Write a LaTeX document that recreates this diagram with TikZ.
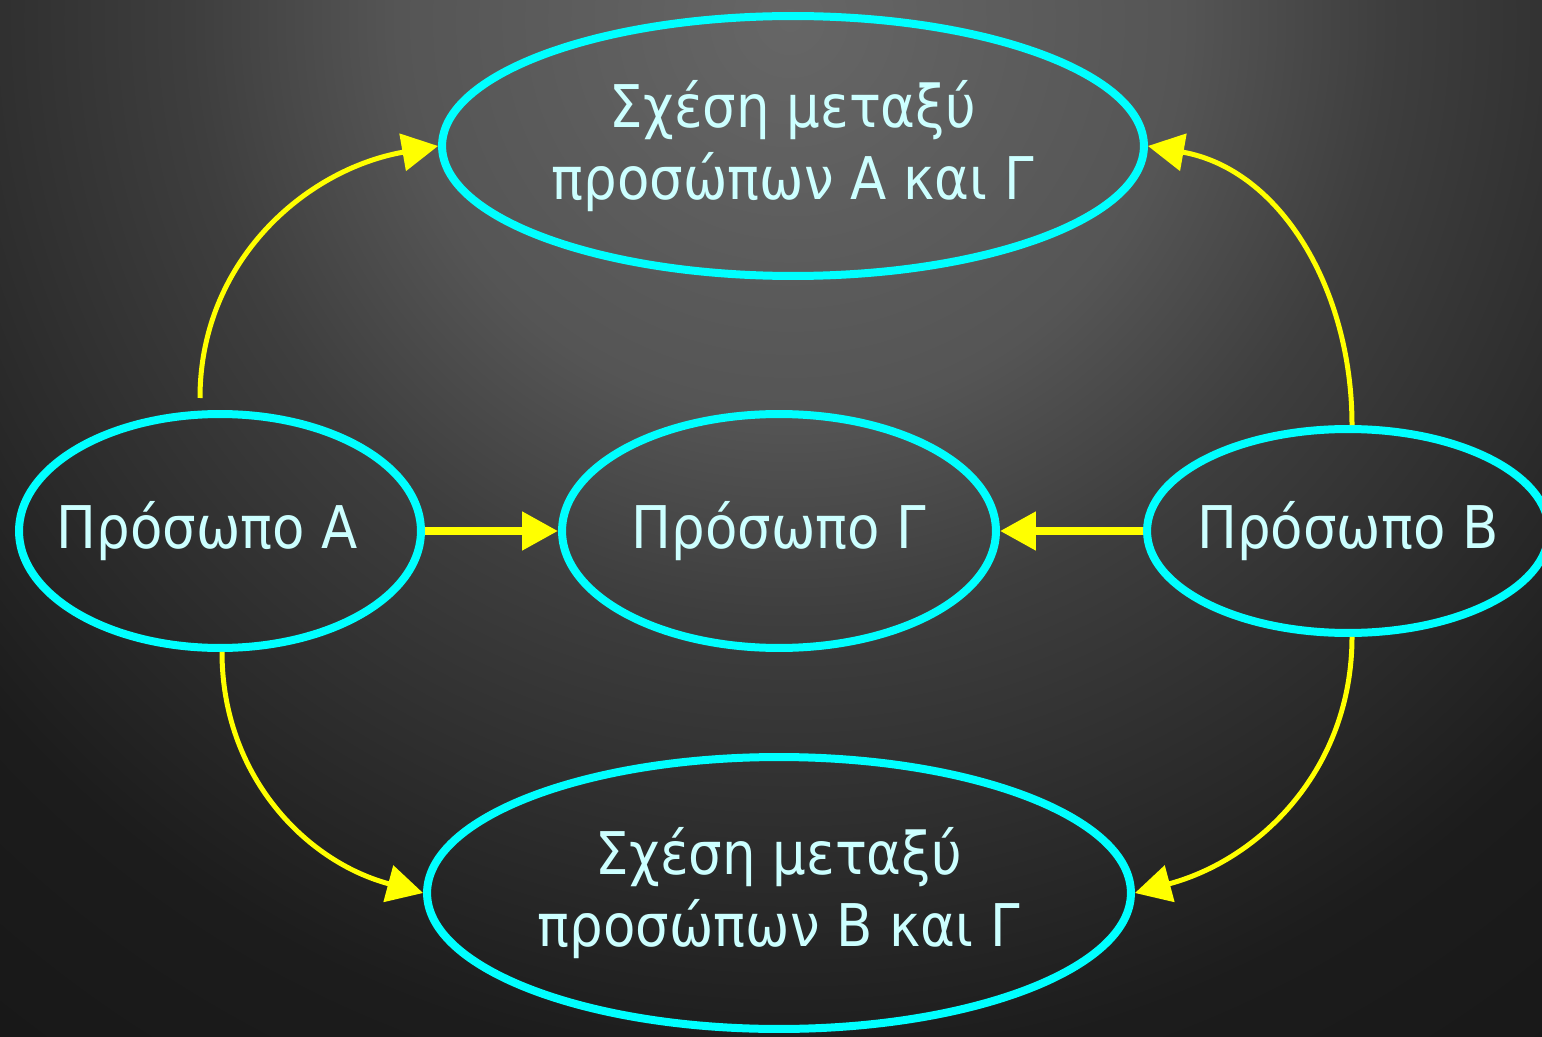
\documentclass[tikz,border=0pt]{standalone}
\usepackage{fontspec}
\setmainfont{DejaVu Sans}[FakeStretch=0.9]
\usepackage{xcolor}
\usepackage{tikz}
\usetikzlibrary{shapes.geometric, arrows.meta}

\definecolor{bgA}{RGB}{102,102,102}
\definecolor{bgB}{RGB}{85,85,85}
\definecolor{bgC}{RGB}{62,62,62}
\definecolor{bgD}{RGB}{28,28,28}
\definecolor{bgE}{RGB}{24,24,24}
\definecolor{ringcyan}{RGB}{0,255,255}
\definecolor{linkyellow}{RGB}{255,255,0}
\definecolor{labelcyan}{RGB}{204,255,255}

\pgfdeclareradialshading{bgglow}{\pgfpoint{0bp}{0bp}}{color(0bp)=(bgA); color(7bp)=(bgB); color(10.7bp)=(bgC); color(18.8bp)=(bgD); color(23bp)=(bgE); color(50bp)=(bgE)}

\tikzset{
    person/.style={ellipse, draw=ringcyan, line width=0.16cm, inner xsep=-1cm, inner ysep=0pt,
        text=labelcyan, align=center, font=\fontsize{33.5pt}{41pt}\selectfont},
    link/.style={draw=linkyellow, line width=0.1cm,
        -{Triangle[length=0.72cm, width=0.74cm]}},
    straightlink/.style={link, line width=0.16cm}
}

\begin{document}
\begin{tikzpicture}[x=0.02cm, y=-0.02cm, line join = round]

                                % background
                                \useasboundingbox (0,0) rectangle (1542,1037);
                                \begin{scope}
                                    \clip (0,0) rectangle (1542,1037);
                                    \shade[shading=bgglow] (790,20) circle [radius=1400];
                                \end{scope}

                                % persons and relations
                                \node[person, minimum width=14.04cm, minimum height=5.2cm] (relAC) at (793,146) {Σχέση μεταξύ\\προσώπων Α και Γ};
                                \node[person, minimum width=8.04cm, minimum height=4.68cm] (persA) at (220,531) {Πρόσωπο Α\hspace*{0.5cm}};
                                \node[person, minimum width=8.68cm, minimum height=4.68cm] (persC) at (779,531) {Πρόσωπο Γ};
                                \node[person, minimum width=8.04cm, minimum height=4.08cm] (persB) at (1348,531) {Πρόσωπο Β};
                                \node[person, minimum width=14.08cm, minimum height=5.44cm] (relBC) at (779,893) {Σχέση μεταξύ\\προσώπων Β και Γ};

                                \coordinate (startA) at (200,398);

                                % links
                                \draw[straightlink] (persA.east) -- (persC.west);
                                \draw[straightlink] (persB.west) -- (persC.east);
                                \draw[link] (startA) to[out=90, in=190] (relAC.west);
                                \draw[link] ([xshift=0.08cm]persB.north) to[out=90, in=-10] (relAC.east);
                                \draw[link] ([xshift=0.04cm]persA.south) to[out=-90, in=165] (relBC.west);
                                \draw[link] ([xshift=0.08cm]persB.south) to[out=-90, in=15] (relBC.east);

\end{tikzpicture}
\end{document}
